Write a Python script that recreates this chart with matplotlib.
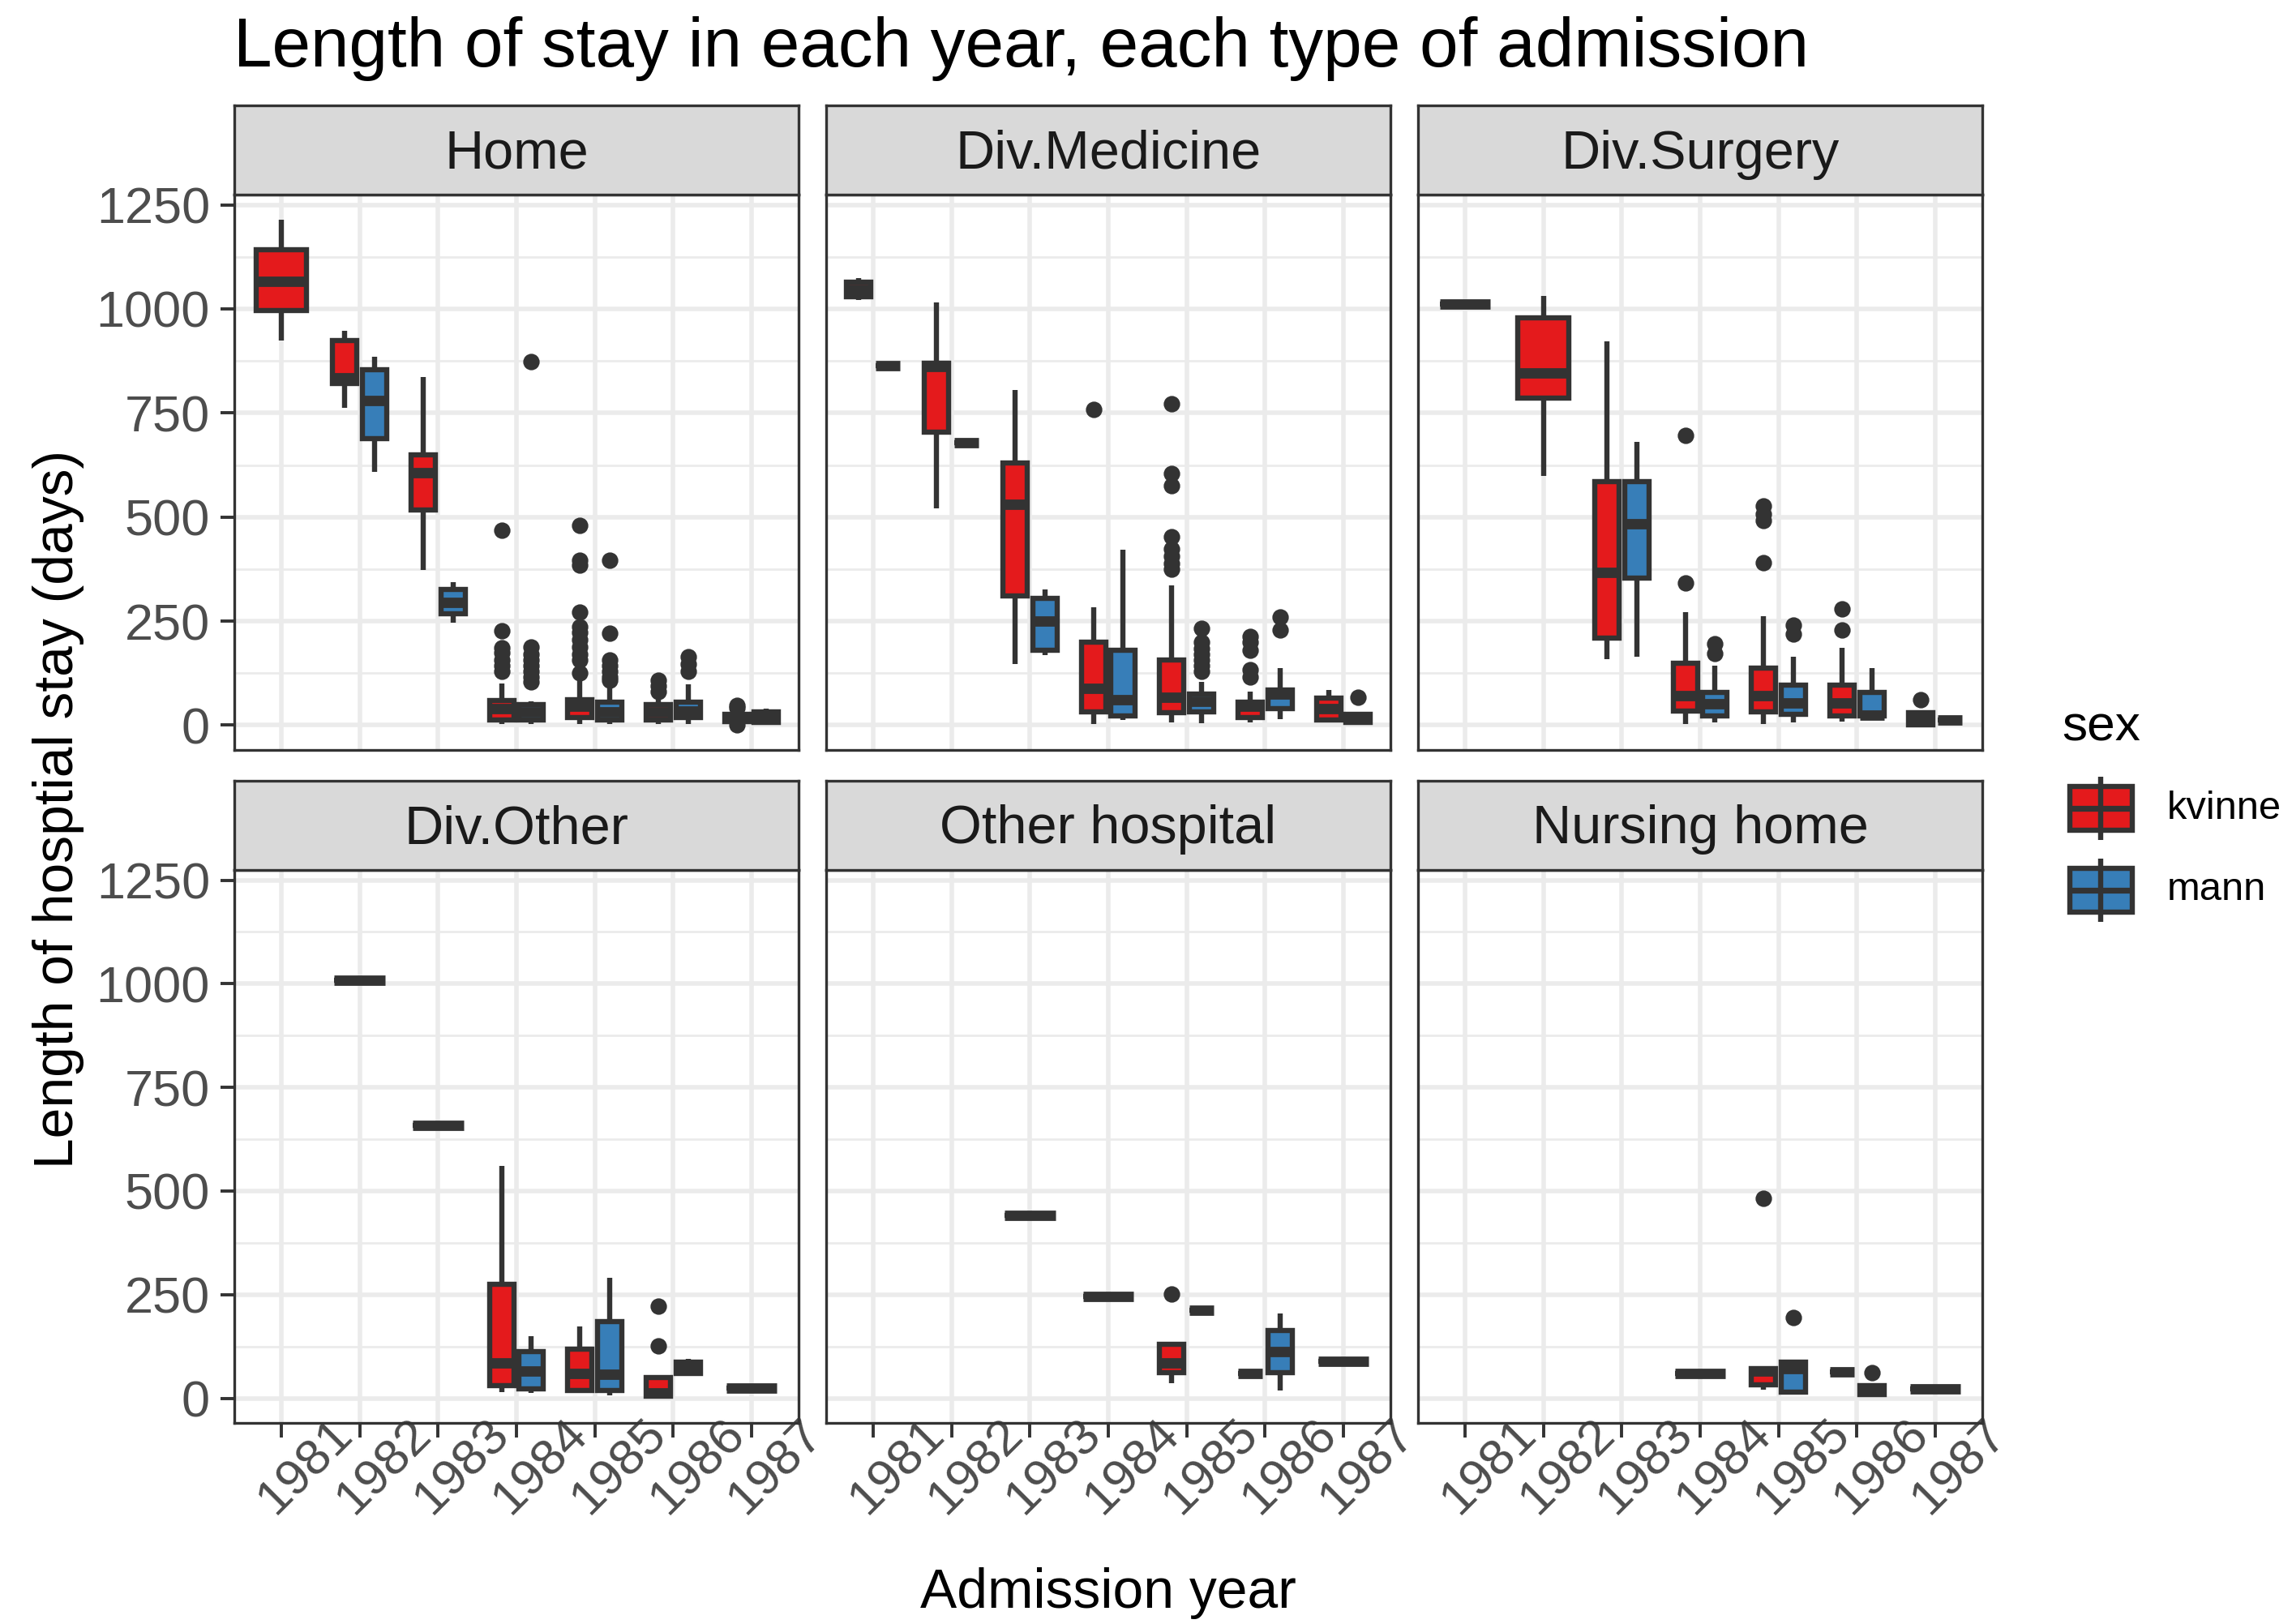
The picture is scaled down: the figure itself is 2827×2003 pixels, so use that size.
import numpy as np
import matplotlib
matplotlib.use("Agg")
import matplotlib.pyplot as plt
import matplotlib.transforms as mtransforms
from matplotlib.patches import Rectangle

plt.rcParams["font.family"] = ["Liberation Sans", "DejaVu Sans"]

# ------------------------------
# Data: five-number summaries per facet
# (year, sex, whisker low, q1, median, q3, whisker high)
# ------------------------------
YEARS = [1981, 1982, 1983, 1984, 1985, 1986, 1987]
FACETS = ["Home", "Div.Medicine", "Div.Surgery",
          "Div.Other", "Other hospital", "Nursing home"]
SEXES = ["kvinne", "mann"]
SEX_COLORS = {"kvinne": "#E41A1C", "mann": "#377EB8"}

home = [
    (1981, "kvinne", 924, 996, 1067, 1143, 1214),
    (1982, "kvinne", 763, 821, 835, 925, 948),
    (1982, "mann", 609, 688, 779, 854, 886),
    (1983, "kvinne", 372, 516, 607, 649, 837),
    (1983, "mann", 247, 268, 295, 326, 344),
    (1984, "kvinne", 3, 13, 40, 60, 101),
    (1984, "mann", 3, 13, 31, 49, 58),
    (1985, "kvinne", 3, 18, 45, 62, 118),
    (1985, "mann", 3, 12, 31, 56, 120),
    (1986, "kvinne", 3, 12, 31, 49, 71),
    (1986, "mann", 3, 18, 33, 56, 98),
    (1987, "kvinne", 3, 9, 16, 27, 33),
    (1987, "mann", 2, 6, 18, 31, 40),
]
home_out = {
    (1984, "kvinne"): [469, 226, 185, 174, 156, 143, 129],
    (1984, "mann"): [873, 187, 170, 156, 143, 129, 116, 103],
    (1985, "kvinne"): [479, 397, 384, 272, 237, 223, 205, 187, 170, 156, 125],
    (1985, "mann"): [397, 221, 156, 143, 129, 116, 107],
    (1986, "kvinne"): [107, 94, 80],
    (1986, "mann"): [165, 147, 129],
    (1987, "kvinne"): [48, 42, 1],
}

medicine = [
    (1981, "kvinne", 1022, 1030, 1047, 1064, 1074),
    (1981, "mann", 863, 863, 863, 863, 863),
    (1982, "kvinne", 520, 704, 862, 869, 1015),
    (1982, "mann", 678, 678, 678, 678, 678),
    (1983, "kvinne", 147, 310, 531, 629, 806),
    (1983, "mann", 168, 179, 250, 304, 326),
    (1984, "kvinne", 3, 31, 89, 199, 284),
    (1984, "mann", 13, 22, 62, 179, 421),
    (1985, "kvinne", 6, 29, 67, 156, 335),
    (1985, "mann", 4, 31, 58, 74, 103),
    (1986, "kvinne", 6, 18, 45, 55, 80),
    (1986, "mann", 15, 40, 74, 85, 138),
    (1987, "kvinne", 6, 12, 40, 65, 85),
    (1987, "mann", 6, 6, 15, 27, 27),
]
medicine_out = {
    (1984, "kvinne"): [759],
    (1985, "kvinne"): [772, 605, 576, 453, 424, 406, 388, 375],
    (1985, "mann"): [232, 200, 183, 170, 156, 143, 130],
    (1986, "kvinne"): [214, 200, 179, 134, 116],
    (1986, "mann"): [259, 229],
    (1987, "mann"): [67],
}

surgery = [
    (1981, "kvinne", 1012, 1012, 1012, 1012, 1012),
    (1982, "kvinne", 598, 786, 846, 978, 1031),
    (1983, "kvinne", 159, 210, 366, 585, 922),
    (1983, "mann", 165, 353, 484, 585, 681),
    (1984, "kvinne", 3, 34, 71, 149, 272),
    (1984, "mann", 6, 22, 51, 78, 143),
    (1985, "kvinne", 3, 31, 71, 138, 262),
    (1985, "mann", 6, 27, 54, 96, 165),
    (1986, "kvinne", 9, 22, 54, 96, 185),
    (1986, "mann", 12, 22, 24, 78, 137),
    (1987, "kvinne", 1, 1, 18, 29, 29),
    (1987, "mann", 13, 13, 13, 13, 13),
]
surgery_out = {
    (1984, "kvinne"): [696, 341],
    (1984, "mann"): [196, 172],
    (1985, "kvinne"): [527, 508, 491, 390],
    (1985, "mann"): [241, 218],
    (1986, "kvinne"): [279, 228],
    (1987, "kvinne"): [62],
}

other = [
    (1982, "kvinne", 1009, 1009, 1009, 1009, 1009),
    (1983, "kvinne", 658, 658, 658, 658, 658),
    (1984, "kvinne", 15, 31, 85, 274, 560),
    (1984, "mann", 12, 22, 65, 112, 149),
    (1985, "kvinne", 18, 18, 60, 118, 174),
    (1985, "mann", 7, 18, 58, 185, 290),
    (1986, "kvinne", 4, 4, 13, 50, 50),
    (1986, "mann", 58, 60, 73, 87, 94),
    (1987, "kvinne", 24, 24, 24, 24, 24),
]
other_out = {
    (1986, "kvinne"): [223, 127],
}

other_hosp = [
    (1983, "kvinne", 442, 442, 442, 442, 442),
    (1984, "kvinne", 246, 246, 246, 246, 246),
    (1985, "kvinne", 36, 62, 85, 131, 131),
    (1985, "mann", 212, 212, 212, 212, 212),
    (1986, "kvinne", 60, 60, 60, 60, 60),
    (1986, "mann", 18, 62, 112, 163, 205),
    (1987, "kvinne", 89, 89, 89, 89, 89),
]
other_hosp_out = {
    (1985, "kvinne"): [252],
}

nursing = [
    (1984, "kvinne", 60, 60, 60, 60, 60),
    (1985, "kvinne", 21, 33, 66, 72, 72),
    (1985, "mann", 15, 15, 71, 87, 87),
    (1986, "kvinne", 64, 64, 64, 64, 64),
    (1986, "mann", 9, 9, 20, 31, 31),
    (1987, "kvinne", 22, 22, 22, 22, 22),
]
nursing_out = {
    (1985, "kvinne"): [482],
    (1985, "mann"): [194],
    (1986, "mann"): [62],
}

PANEL_DATA = [(home, home_out), (medicine, medicine_out), (surgery, surgery_out),
              (other, other_out), (other_hosp, other_hosp_out), (nursing, nursing_out)]

# ------------------------------
# Layout (pixels of the output image)
# ------------------------------
W, H = 2827, 2003
DPI = 200
PANEL_X = [289, 1019, 1749]
PANEL_W = 696
STRIP_TOP = [130, 963]
STRIP_BOT = [240, 1073]
PANEL_BOT = [925, 1755]

EDGE = "#333333"
GRID = "#EBEBEB"
LW = 2.3
SINGLE_W = 0.65
DODGE_W = 0.31
DODGE_OFF = 0.19


def px_box(x0, y0, x1, y1):
    return [x0 / W, 1 - y1 / H, (x1 - x0) / W, (y1 - y0) / H]


all_vals = []
for recs, outs in PANEL_DATA:
    for r in recs:
        all_vals.extend(r[2:])
    for v in outs.values():
        all_vals.extend(v)
y_lo, y_hi = min(all_vals), max(all_vals)
y_pad = 0.05 * (y_hi - y_lo)
YLIM = (y_lo - y_pad, y_hi + y_pad)


def draw_panel(ax, recs, outs):
    counts = {}
    for r in recs:
        counts[r[0]] = counts.get(r[0], 0) + 1
    stats, pos, widths, colors = [], [], [], []
    for year, sex, lo, q1, med, q3, hi in recs:
        i = YEARS.index(year)
        if counts[year] == 1:
            p, w = i, SINGLE_W
        else:
            p = i - DODGE_OFF if sex == "kvinne" else i + DODGE_OFF
            w = DODGE_W
        stats.append(dict(whislo=lo, q1=q1, med=med, q3=q3, whishi=hi,
                          fliers=outs.get((year, sex), [])))
        pos.append(p)
        widths.append(w)
        colors.append(SEX_COLORS[sex])
    bp = ax.bxp(stats, positions=pos, widths=widths, patch_artist=True,
                showcaps=False, manage_ticks=False,
                boxprops=dict(edgecolor=EDGE, linewidth=LW),
                whiskerprops=dict(color=EDGE, linewidth=LW, solid_capstyle="butt"),
                medianprops=dict(color=EDGE, linewidth=4.6, solid_capstyle="butt"),
                flierprops=dict(marker="o", markerfacecolor=EDGE,
                                markeredgecolor=EDGE, markersize=6.3,
                                linestyle="none"))
    for patch, c in zip(bp["boxes"], colors):
        patch.set_facecolor(c)
        patch.set_joinstyle("miter")


fig = plt.figure(figsize=(W / DPI, H / DPI), dpi=DPI)
label_shift = mtransforms.ScaledTranslation(10 / DPI, -3 / DPI, fig.dpi_scale_trans)

for k, facet in enumerate(FACETS):
    row, col = divmod(k, 3)
    x0 = PANEL_X[col]
    x1 = x0 + PANEL_W

    ax = fig.add_axes(px_box(x0, STRIP_BOT[row], x1, PANEL_BOT[row]))
    ax.set_xlim(-0.6, len(YEARS) - 0.4)
    ax.set_ylim(*YLIM)
    ax.set_axisbelow(True)
    ax.set_yticks([0, 250, 500, 750, 1000, 1250])
    ax.set_yticks(np.arange(125, 1250, 250), minor=True)
    ax.set_xticks(range(len(YEARS)))
    ax.grid(True, which="major", color=GRID, linewidth=2.0)
    ax.grid(True, which="minor", axis="y", color=GRID, linewidth=1.0)
    for s in ax.spines.values():
        s.set_color(EDGE)
        s.set_linewidth(1.2)
    ax.tick_params(which="minor", length=0)
    ax.tick_params(which="major", color=EDGE, length=6.3, width=1.4,
                   labelsize=22.7, labelcolor="#4D4D4D", pad=4.5)
    if col == 0:
        ax.set_yticklabels([0, 250, 500, 750, 1000, 1250])
    else:
        ax.tick_params(axis="y", length=0, labelleft=False)
    if row == 1:
        ax.tick_params(axis="x", pad=4.9)
        ax.set_xticklabels(YEARS, rotation=45, rotation_mode="anchor",
                           ha="center", va="top", fontsize=22.4)
        for lab in ax.get_xticklabels():
            lab.set_transform(lab.get_transform() + label_shift)
    else:
        ax.tick_params(axis="x", length=0, labelbottom=False)

    recs, outs = PANEL_DATA[k]
    draw_panel(ax, recs, outs)

    sax = fig.add_axes(px_box(x0, STRIP_TOP[row], x1, STRIP_BOT[row]))
    sax.set_facecolor("#D9D9D9")
    sax.set_xticks([])
    sax.set_yticks([])
    for s in sax.spines.values():
        s.set_color(EDGE)
        s.set_linewidth(1.2)
    sax.text(0.5, 0.45, facet, transform=sax.transAxes, ha="center",
             va="center", fontsize=24, color="#1A1A1A")

# titles
fig.text(288 / W, 1 - 82 / H, "Length of stay in each year, each type of admission",
         fontsize=30.8, color="black", ha="left", va="baseline")
fig.text(72 / W, 1 - 998 / H, "Length of hosptial stay (days)", rotation=90,
         fontsize=24.4, ha="center", va="center")
fig.text((PANEL_X[0] + PANEL_X[2] + PANEL_W) / 2 / W, 1 - 1983 / H,
         "Admission year", fontsize=24.4, ha="center", va="baseline")

# legend
lax = fig.add_axes(px_box(2500, 840, 2827, 1180))
lax.set_xlim(2500, 2827)
lax.set_ylim(1180, 840)
lax.axis("off")
lax.text(2543, 913, "sex", fontsize=22.4, ha="left", va="baseline")
for sex, cy in zip(SEXES, [997, 1098]):
    lax.plot([2591, 2591], [cy - 39, cy + 39], color=EDGE, lw=LW,
             solid_capstyle="butt")
    lax.add_patch(Rectangle((2553, cy - 27), 77, 54, facecolor=SEX_COLORS[sex],
                            edgecolor=EDGE, lw=LW, joinstyle="miter"))
    lax.plot([2553, 2630], [cy, cy], color=EDGE, lw=2.6, solid_capstyle="butt")
    lax.text(2673, cy, sex, fontsize=17.6, ha="left", va="center")

fig.savefig("out.png", dpi=DPI, facecolor="white")
